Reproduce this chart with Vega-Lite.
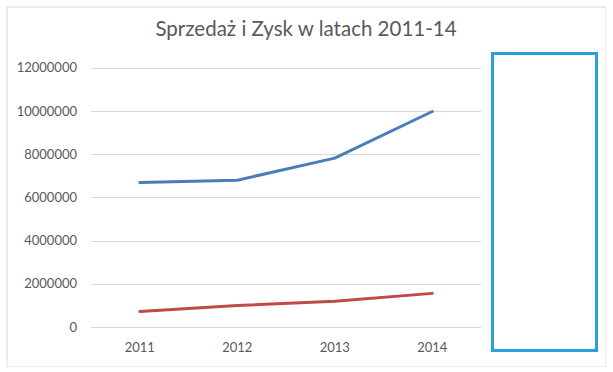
{
  "$schema": "https://vega.github.io/schema/vega-lite/v6.json",
  "autosize": {"type": "none"},
  "padding": {"left": 6.5, "top": 6.5, "right": 0, "bottom": 0},
  "width": 599,
  "height": 360,
  "background": "white",
  "view": {"stroke": "#d9d9d9", "strokeWidth": 1},
  "title": {
    "text": "Sprzedaż i Zysk w latach 2011-14",
    "font": "Lato",
    "fontSize": 20.5,
    "fontWeight": "normal",
    "color": "#595959",
    "anchor": "middle",
    "frame": "group",
    "baseline": "alphabetic",
    "offset": -50
  },
  "data": {
    "values": [
      {"rok": "2011", "seria": "Sprzedaż", "wartosc": 6710000},
      {"rok": "2012", "seria": "Sprzedaż", "wartosc": 6820000},
      {"rok": "2013", "seria": "Sprzedaż", "wartosc": 7840000},
      {"rok": "2014", "seria": "Sprzedaż", "wartosc": 10000000},
      {"rok": "2011", "seria": "Zysk", "wartosc": 740000},
      {"rok": "2012", "seria": "Zysk", "wartosc": 1020000},
      {"rok": "2013", "seria": "Zysk", "wartosc": 1210000},
      {"rok": "2014", "seria": "Zysk", "wartosc": 1580000}
    ]
  },
  "mark": {"type": "line", "strokeWidth": 3, "strokeCap": "round", "strokeJoin": "round"},
  "encoding": {
    "x": {
      "field": "rok",
      "type": "ordinal",
      "scale": {"range": [84.5, 474.5], "padding": 0.5},
      "axis": {
        "title": null,
        "labelAngle": 0,
        "domain": false,
        "ticks": false,
        "tickSize": 0,
        "grid": false,
        "translate": 0,
        "offset": -38.5,
        "labelPadding": 14,
        "labelFont": "Lato",
        "labelFontSize": 13,
        "labelColor": "#595959"
      }
    },
    "y": {
      "field": "wartosc",
      "type": "quantitative",
      "scale": {"domain": [0, 12000000], "range": [321, 61.8], "nice": false, "zero": true},
      "axis": {
        "title": null,
        "values": [0, 2000000, 4000000, 6000000, 8000000, 10000000, 12000000],
        "format": "d",
        "domain": false,
        "ticks": false,
        "tickSize": 0,
        "grid": true,
        "gridColor": "#d9d9d9",
        "gridWidth": 1,
        "translate": 0,
        "offset": -84.5,
        "labelPadding": 14,
        "labelFont": "Lato",
        "labelFontSize": 13,
        "labelColor": "#595959"
      }
    },
    "color": {
      "field": "seria",
      "type": "nominal",
      "scale": {"domain": ["Sprzedaż", "Zysk"], "range": ["#4a7ebb", "#be4b48"]},
      "legend": {
        "orient": "none",
        "direction": "vertical",
        "legendX": 486,
        "legendY": 47,
        "title": null,
        "padding": 0,
        "labelExpr": "''",
        "labelOffset": 0,
        "symbolType": "square",
        "symbolSize": 10816,
        "symbolOpacity": 0,
        "symbolStrokeWidth": 0,
        "rowPadding": 89,
        "strokeColor": "#2a9fd8",
        "fillColor": "white",
        "encode": {"legend": {"update": {"strokeWidth": {"value": 3}}}}
      }
    }
  }
}
